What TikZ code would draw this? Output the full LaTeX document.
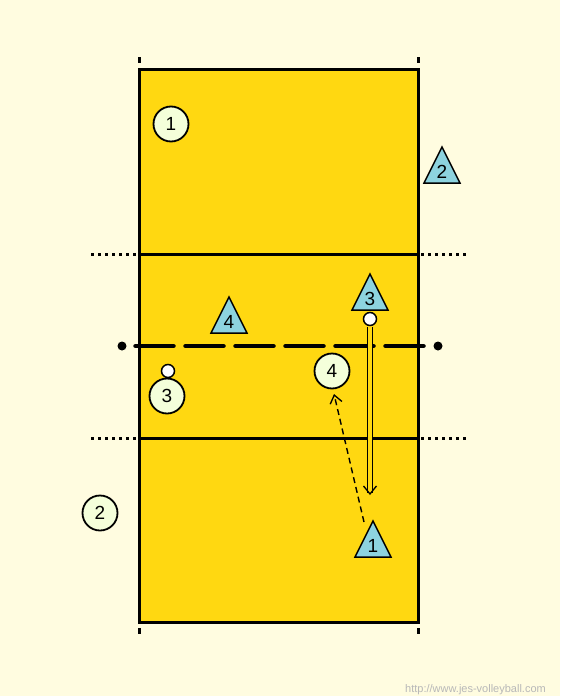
\documentclass[tikz,border=0pt]{standalone}
\usepackage{fontspec}
\setmainfont{Liberation Sans}
\usetikzlibrary{arrows.meta}
\definecolor{bg}{HTML}{FFFCE0}
\definecolor{court}{HTML}{FFD811}
\definecolor{tri}{HTML}{8DD3DF}
\definecolor{pc}{HTML}{F4FFDA}
\begin{document}
\begin{tikzpicture}[x=1pt,y=-1pt,
  player/.style={circle,draw,line width=1.8pt,fill=pc,minimum size=35pt,inner sep=0pt,font=\fontsize{19}{19}\selectfont},
  ballst/.style={circle,draw,line width=1.5pt,fill=white,minimum size=13pt,inner sep=0pt},
  courtline/.style={line width=3pt},
  dotline/.style={line width=3pt,dash pattern=on 3pt off 4pt},
  tnum/.style={font=\fontsize{19}{19}\selectfont,inner sep=0pt},
]
\useasboundingbox[fill=bg] (0,0) rectangle (560,696);
% court
\fill[court] (139,69) rectangle (418,622);
\draw[courtline] (139,69) rectangle (418,622);
\draw[courtline] (139,254) -- (418,254);
\draw[courtline] (139,438) -- (418,438);
\draw[dotline] (91,254) -- (139,254);
\draw[dotline] (421,254) -- (468,254);
\draw[dotline] (91,438) -- (139,438);
\draw[dotline] (421,438) -- (468,438);
% ticks
\foreach \x in {139,418}{
  \fill (\x-1.5,57) rectangle (\x+1.5,63);
  \fill (\x-1.5,628) rectangle (\x+1.5,634);
}
% net
\coordinate (netL) at (122,346);
\coordinate (netR) at (438,346);
\fill (netL) circle (4.5);
\fill (netR) circle (4.5);
\draw[line width=4.5pt,dash pattern=on 38pt off 12pt,line cap=round] (135.5,346) -- (428,346);
% players circles
\node[player] (p1) at (171,124) {1};
\node[player] (p2) at (100,513) {2};
\node[player] (p3) at (167,396) {3};
\node[player] (p4) at (332,371) {4};
\node[ballst] (b3) at (168,371) {};
% triangles
\newcommand{\tri}[3]{%
  \filldraw[fill=tri,line width=1.5pt,line join=miter] (#1,#2-18) -- (#1+18,#2+18) -- (#1-18,#2+18) -- cycle;
  \node[tnum] (#3) at (#1,#2+7) {\phantom{0}};
}
\tri{442}{165}{t2}
\tri{370}{292}{t3}
\tri{229}{315}{t4}
\tri{373}{539}{t1}
\node[tnum] at (t2) {2};
\node[tnum] at (t3) {3};
\node[tnum] at (t4) {4};
\node[tnum] at (t1) {1};
\node[ballst] (b1) at (370,319) {};
% double arrow
\coordinate (dend) at (370,495);
\draw[double=court,double distance=3.5pt,line width=1.2pt,-{Straight Barb[length=8pt,width=13pt,line width=1.3pt]}] (b1.south) ++(0,1) -- (dend);
% dashed arrow
\coordinate (ds) at (364,522);
\coordinate (de) at (334,394);
\draw[line width=1.4pt,dash pattern=on 6pt off 4pt,-{Straight Barb[length=8pt,width=12pt,line width=1.3pt]}] (ds) -- (de);
% watermark
\node[anchor=base west,text=black!28,font=\fontsize{11}{11}\selectfont,inner sep=0pt] (wm) at (405,692) {http://www.jes-volleyball.com};
\end{tikzpicture}
\end{document}
